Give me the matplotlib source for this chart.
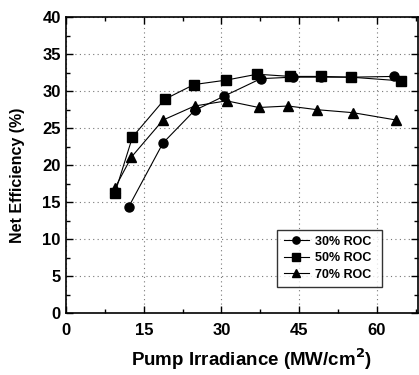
import matplotlib
matplotlib.use("Agg")
import matplotlib.pyplot as plt
from matplotlib.ticker import MultipleLocator

plt.rcParams["font.family"] = ["Liberation Sans", "DejaVu Sans"]
plt.rcParams["font.weight"] = "bold"

# ── Data ──────────────────────────────────────────────────────────────────────
x30 = [12.1, 18.7, 24.8, 30.4, 37.6, 43.8, 49.2, 55.0, 63.4]
y30 = [14.4, 23.0, 27.4, 29.3, 31.7, 31.9, 31.9, 31.9, 32.0]

x50 = [9.4, 12.8, 19.0, 24.7, 30.9, 36.9, 43.3, 49.2, 55.0, 64.7]
y50 = [16.2, 23.8, 28.9, 30.9, 31.5, 32.3, 32.0, 32.0, 31.9, 31.4]

x70 = [9.4, 12.6, 18.7, 24.8, 31.0, 37.2, 42.9, 48.5, 55.4, 63.8]
y70 = [16.9, 21.1, 26.1, 28.0, 28.7, 27.8, 28.0, 27.5, 27.1, 26.1]

series = [
    (x30, y30, "o", "30% ROC"),
    (x50, y50, "s", "50% ROC"),
    (x70, y70, "^", "70% ROC"),
]

fig = plt.figure(figsize=(4.19, 3.75), dpi=100)
ax = fig.add_axes([0.158, 0.165, 0.84, 0.789])

for xs, ys, mk, lbl in series:
    ax.plot(xs, ys, color="black", linewidth=0.8, marker=mk,
            markersize=6.5, markerfacecolor="black", markeredgecolor="black",
            label=lbl)

ax.set_xlim(0, 68)
ax.set_ylim(0, 40)
ax.xaxis.set_major_locator(MultipleLocator(15))
ax.xaxis.set_minor_locator(MultipleLocator(7.5))
ax.yaxis.set_major_locator(MultipleLocator(5))
ax.yaxis.set_minor_locator(MultipleLocator(2.5))
ax.tick_params(which="both", direction="in", top=True, right=True, width=1.0)
ax.tick_params(which="major", length=5, labelsize=12)
ax.tick_params(which="minor", length=3)
ax.tick_params(axis="x", which="major", pad=7)
ax.tick_params(axis="y", which="major", pad=4)
for lab in ax.get_xticklabels() + ax.get_yticklabels():
    lab.set_fontweight("bold")
for sp in ax.spines.values():
    sp.set_linewidth(1.2)

ax.grid(which="major", color="#777777", linestyle=(0, (1, 3)), linewidth=0.8)

ax.set_xlabel("Pump Irradiance (MW/cm$^\\mathbf{2}$)", fontsize=13.5,
              fontweight="bold")
ax.xaxis.set_label_coords(0.527, -0.112)
ax.set_ylabel("Net Efficiency (%)", fontsize=11.5, fontweight="bold")
ax.yaxis.set_label_coords(-0.116, 0.466)

leg = ax.legend(loc="lower left", bbox_to_anchor=(0.582, 0.068, 0.333, 0.216),
                mode="expand", fontsize=9, frameon=True, fancybox=False,
                edgecolor="black", handlelength=2.0, borderpad=0.5,
                labelspacing=0.35, markerscale=0.8, handletextpad=0.5)
leg.get_frame().set_linewidth(1.0)
for t in leg.get_texts():
    t.set_fontweight("bold")

fig.savefig("out.png", dpi=100)
